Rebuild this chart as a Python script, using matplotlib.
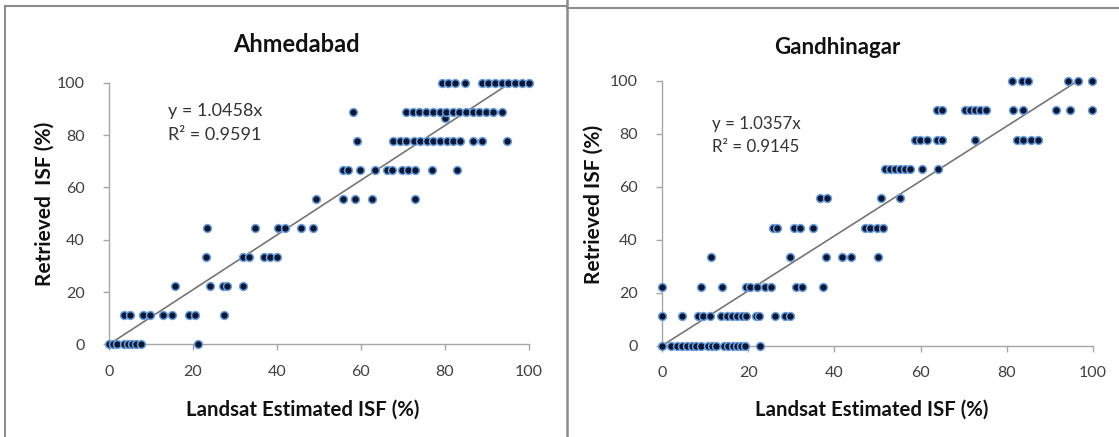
import matplotlib
matplotlib.use("Agg")
import matplotlib.pyplot as plt
from matplotlib.lines import Line2D

plt.rcParams['font.family'] = ['Lato', 'DejaVu Sans']

# ---------------- data ----------------
levels = [0, 11.1, 22.2, 33.3, 44.4, 55.6, 66.7, 77.8, 86.5, 88.9, 100]

ahm_x_rows = [
    [0, 1, 2, 3.5, 4.5, 5.5, 6.5, 7.5, 21.1],
    [3.6, 5.0, 8.0, 9.7, 12.9, 15.0, 19.1, 20.5, 27.4],
    [15.7, 24.1, 27.1, 28.1, 32.0],
    [23.1, 31.9, 33.4, 36.9, 38.4, 40.0],
    [23.3, 34.8, 40.2, 41.9, 45.6, 48.6],
    [49.4, 55.8, 58.6, 62.5, 72.9],
    [55.8, 57.0, 59.8, 63.3, 66.1, 67.3, 69.7, 71.2, 72.9, 76.9, 82.8],
    [59.0, 67.7, 69.3, 70.8, 72.5, 74.1, 75.7, 77.2, 78.8, 80.4, 82.0, 83.6, 86.7, 88.7, 94.7],
    [80.0],
    [58.0, 70.7, 72.3, 73.9, 75.5, 77.1, 78.7, 80.3, 81.8, 83.4, 85.0, 86.6, 88.1, 89.7, 91.5, 93.5],
    [79.2, 80.8, 82.4, 84.8, 88.7, 90.3, 91.9, 93.5, 95.1, 96.7, 98.3, 99.9],
]

gan_x_rows = [
    [0, 2.2, 3.4, 4.6, 5.7, 6.9, 8.0, 9.1, 10.7, 11.5, 12.6, 14.5, 15.4, 16.5, 17.4, 18.4, 19.2, 22.8],
    [0, 4.6, 8.4, 9.5, 11.2, 13.8, 15.1, 16.2, 17.3, 18.5, 19.6, 21.8, 22.6, 26.3, 28.5, 29.7],
    [0, 9.1, 14.0, 19.5, 20.4, 22.0, 23.9, 25.4, 31.2, 32.4, 37.4],
    [11.3, 29.8, 38.1, 41.8, 43.8, 50.2],
    [25.8, 26.7, 30.6, 32.1, 35.1, 47.1, 48.3, 49.8, 51.2],
    [36.6, 38.2, 50.8, 55.2],
    [51.7, 53.0, 54.1, 55.2, 56.4, 57.5, 60.3, 64.1],
    [58.7, 59.9, 61.4, 63.7, 64.9, 72.6, 82.3, 83.8, 85.7, 87.3],
    [],
    [63.7, 64.9, 70.3, 71.5, 72.6, 73.8, 75.1, 81.5, 83.8, 91.4, 94.7, 99.7],
    [81.2, 83.5, 85.0, 94.3, 96.6, 99.7],
]

titles = ["Ahmedabad", "Gandhinagar"]
slopes = [1.0458, 1.0357]
r2_values = [0.9591, 0.9145]
ylabels = ["Retrieved  ISF (%)", "Retrieved ISF (%)"]
xlabel = "Landsat Estimated ISF (%)"
ticks = [0, 20, 40, 60, 80, 100]

# ---------------- figure ----------------
W, H = 1119, 437
fig = plt.figure(figsize=(W / 100, H / 100), dpi=100)
fig.patch.set_facecolor("white")

def fx(px):
    return px / W

def fy(py):
    return 1 - py / H

# layout in pixels: (x0, x1, y_top, y_bottom) of the plot areas
axes_px = [(109, 529, 82.7, 344.4), (662, 1093, 80.7, 345.7)]
title_px = [(296, 45, 17), (837, 47, 16)]
xlabel_px = [(303, 410), (872, 410)]
ylabel_px = [(45, 204), (594, 204)]
eq_px = [(168, 111, 135, 13), (712, 124, 147, 12.2)]

spine_col = "#a6a6a6"

for i, rows in enumerate([ahm_x_rows, gan_x_rows]):
    x0, x1, ytop, ybot = axes_px[i]
    ax = fig.add_axes([fx(x0), fy(ybot), (x1 - x0) / W, (ybot - ytop) / H])
    xs, ys = [], []
    for lev, row in zip(levels, rows):
        xs.extend(row)
        ys.extend([lev] * len(row))
    ax.set_xlim(0, 100)
    ax.set_ylim(0, 100)
    ax.plot([0, 100], [0, slopes[i] * 100], color="#767676", lw=1.2, zorder=2)
    ax.scatter(xs, ys, s=32, facecolor="#0a1736", edgecolor="#6e9fdc",
               linewidths=1.1, zorder=3, clip_on=False)
    for side in ["top", "right"]:
        ax.spines[side].set_visible(False)
    for side in ["left", "bottom"]:
        ax.spines[side].set_color(spine_col)
        ax.spines[side].set_linewidth(1.0)
    ax.set_xticks(ticks)
    ax.set_yticks(ticks)
    ax.tick_params(axis="both", direction="out", length=4.5, width=1.0,
                   color=spine_col, labelcolor="#404040", labelsize=11.5)
    ax.tick_params(axis="y", pad=13)
    ax.tick_params(axis="x", pad=10)
    ax.patch.set_alpha(0)

    tx, ty, ts = title_px[i]
    fig.text(fx(tx), fy(ty), titles[i], ha="center", va="center",
             fontsize=ts, fontweight="bold", color="#111111")
    fig.text(fx(xlabel_px[i][0]), fy(xlabel_px[i][1]), xlabel, ha="center",
             va="center", fontsize=14.7, fontweight="bold", color="#111111")
    fig.text(fx(ylabel_px[i][0]), fy(ylabel_px[i][1]), ylabels[i], ha="center",
             va="center", rotation=90, fontsize=15, fontweight="bold", color="#111111")
    ex, ey1, ey2, es = eq_px[i]
    fig.text(fx(ex), fy(ey1), f"y = {slopes[i]:.4f}x", ha="left", va="center",
             fontsize=es, color="#333333")
    fig.text(fx(ex), fy(ey2), f"R\u00b2 = {r2_values[i]:.4f}", ha="left", va="center",
             fontsize=es, color="#333333")

# panel borders
bcol = "#8c8c8c"
fig.add_artist(Line2D([fx(5), fx(5)], [fy(6), 0], transform=fig.transFigure, color=bcol, lw=1.5))
fig.add_artist(Line2D([fx(5), fx(567)], [fy(6), fy(6)], transform=fig.transFigure, color=bcol, lw=1.5))
fig.add_artist(Line2D([fx(567), fx(567)], [1, 0], transform=fig.transFigure, color=bcol, lw=1.8))
fig.add_artist(Line2D([fx(567), 1], [fy(8), fy(8)], transform=fig.transFigure, color=bcol, lw=1.5))

fig.savefig("out.png", dpi=100)
